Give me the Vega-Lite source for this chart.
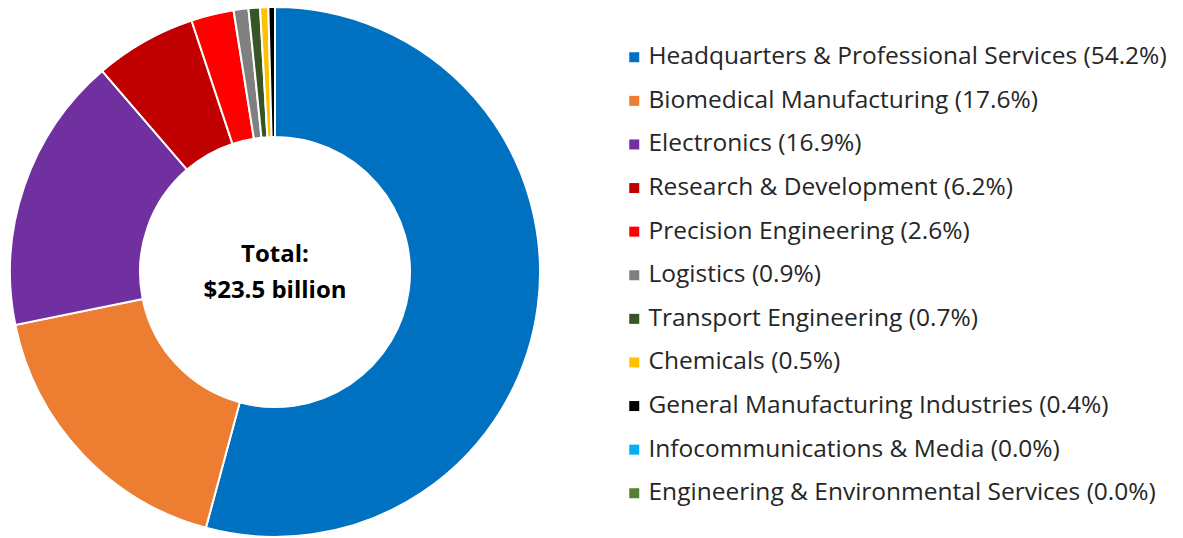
{
  "$schema": "https://vega.github.io/schema/vega-lite/v6.json",
  "width": 550,
  "height": 544,
  "padding": 0,
  "background": "white",
  "config": {"view": {"stroke": null}},
  "layer": [
    {
      "data": {
        "values": [
          {"order": 1, "sector": "Headquarters & Professional Services (54.2%)", "share": 54.2},
          {"order": 2, "sector": "Biomedical Manufacturing (17.6%)", "share": 17.6},
          {"order": 3, "sector": "Electronics (16.9%)", "share": 16.9},
          {"order": 4, "sector": "Research & Development (6.2%)", "share": 6.2},
          {"order": 5, "sector": "Precision Engineering (2.6%)", "share": 2.6},
          {"order": 6, "sector": "Logistics (0.9%)", "share": 0.9},
          {"order": 7, "sector": "Transport Engineering (0.7%)", "share": 0.7},
          {"order": 8, "sector": "Chemicals (0.5%)", "share": 0.5},
          {"order": 9, "sector": "General Manufacturing Industries (0.4%)", "share": 0.4},
          {"order": 10, "sector": "Infocommunications & Media (0.0%)", "share": 0.0},
          {"order": 11, "sector": "Engineering & Environmental Services (0.0%)", "share": 0.0}
        ]
      },
      "mark": {"type": "arc", "outerRadius": 265, "innerRadius": 135, "stroke": "white", "strokeWidth": 2},
      "encoding": {
        "theta": {"field": "share", "type": "quantitative", "stack": true},
        "order": {"field": "order", "type": "quantitative"},
        "color": {
          "field": "sector",
          "type": "nominal",
          "scale": {
            "domain": [
              "Headquarters & Professional Services (54.2%)",
              "Biomedical Manufacturing (17.6%)",
              "Electronics (16.9%)",
              "Research & Development (6.2%)",
              "Precision Engineering (2.6%)",
              "Logistics (0.9%)",
              "Transport Engineering (0.7%)",
              "Chemicals (0.5%)",
              "General Manufacturing Industries (0.4%)",
              "Infocommunications & Media (0.0%)",
              "Engineering & Environmental Services (0.0%)"
            ],
            "range": ["#0070C0", "#ED7D31", "#7030A0", "#C00000", "#FF0000", "#808080", "#375623", "#FFC000", "#000000", "#00B0F0", "#548235"]
          },
          "legend": {
            "title": null,
            "orient": "none",
            "legendX": 622,
            "legendY": 45,
            "symbolType": "square",
            "symbolSize": 100,
            "symbolStrokeWidth": 0,
            "labelFont": "Open Sans",
            "labelFontSize": 24.5,
            "labelColor": "#262626",
            "labelOffset": 2,
            "labelLimit": 700,
            "rowPadding": 18.6,
            "padding": 0
          }
        }
      }
    },
    {
      "data": {"values": [{"label": "Total:\n$23.5 billion"}]},
      "mark": {"type": "text", "font": "Open Sans", "fontSize": 24, "fontWeight": "bold", "lineBreak": "\n", "lineHeight": 36, "baseline": "middle", "align": "center", "dy": -17, "color": "black"},
      "encoding": {"text": {"field": "label"}}
    }
  ]
}
